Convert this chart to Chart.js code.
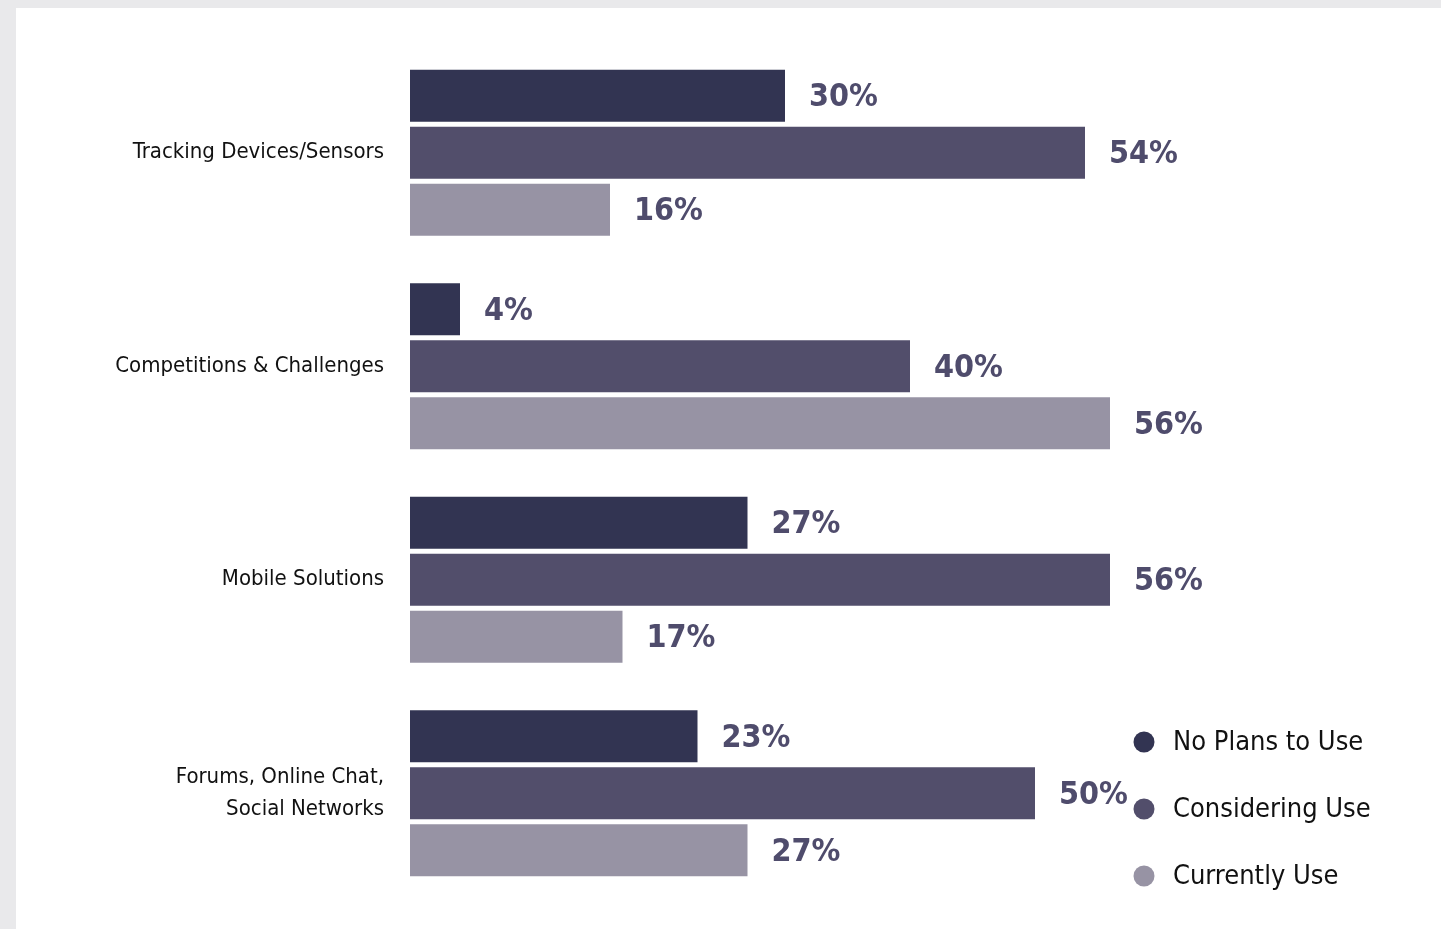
<!DOCTYPE html>
<html>
<head>
<meta charset="utf-8">
<title>Technology use</title>
<script src="https://cdn.jsdelivr.net/npm/chart.js@4/dist/chart.umd.min.js"></script>
<style>
    body { margin: 0; background: #e9e9eb; width: 1441px; height: 929px; overflow: hidden; position: relative; }
    .panel { position: absolute; left: 16px; top: 8px; right: 0; bottom: 0; background: #fff; }
    #chart { position: absolute; left: 0; top: 0; }
</style>
</head>
<body>
<div class="panel"></div>
<canvas id="chart" width="1441" height="929"></canvas>
<script>
// Survey answers per tool type, in percent
const categories = [
    'Tracking Devices/Sensors',
    'Competitions & Challenges',
    'Mobile Solutions',
    ['Forums, Online Chat,', 'Social Networks']
];
const seriesNames = ['No Plans to Use', 'Considering Use', 'Currently Use'];
const noPlans = [30, 4, 27, 23];
const considering = [54, 40, 56, 50];
const currently = [16, 56, 17, 27];
const seriesColors = ['#323452', '#524e6b', '#9793a4'];

const FONT = '"Liberation Sans Narrow", "DejaVu Sans Condensed", "Roboto Condensed", "Open Sans", sans-serif';

// value at the end of each bar
const valueLabels = {
    id: 'valueLabels',
    afterDatasetsDraw(chart) {
        const ctx = chart.ctx;
        ctx.save();
        ctx.font = 'bold 32px ' + FONT;
        ctx.fillStyle = '#4f4c6c';
        ctx.textAlign = 'left';
        ctx.textBaseline = 'middle';
        chart.data.datasets.forEach((ds, i) => {
            chart.getDatasetMeta(i).data.forEach((bar, j) => {
                ctx.fillText(ds.data[j] + '%', bar.x + 24, bar.y + 2);
            });
        });
        ctx.restore();
    }
};

// round markers with series names, bottom right
const dotLegend = {
    id: 'dotLegend',
    afterDraw(chart) {
        const ctx = chart.ctx;
        ctx.save();
        ctx.font = '27px ' + FONT;
        ctx.textBaseline = 'middle';
        ctx.textAlign = 'left';
        chart.data.datasets.forEach((ds, i) => {
            const y = 742 + i * 67;
            ctx.fillStyle = ds.backgroundColor;
            ctx.beginPath();
            ctx.arc(1144, y, 10.5, 0, Math.PI * 2);
            ctx.fill();
            ctx.fillStyle = '#111';
            ctx.fillText(ds.label, 1173, y + 1);
        });
        ctx.restore();
    }
};

const seriesData = [noPlans, considering, currently];

new Chart(document.getElementById('chart'), {
    type: 'bar',
    data: {
        labels: categories,
        datasets: seriesNames.map((name, i) => ({
            label: name,
            data: seriesData[i],
            backgroundColor: seriesColors[i],
            borderWidth: 0,
            barPercentage: 0.912,
            categoryPercentage: 0.801
        }))
    },
    options: {
        indexAxis: 'y',
        responsive: false,
        devicePixelRatio: 1,
        animation: false,
        layout: { padding: { left: 0, right: 31, top: 46, bottom: 29 } },
        plugins: {
            legend: { display: false },
            tooltip: { enabled: false }
        },
        scales: {
            x: {
                display: false,
                min: 0,
                max: 80
            },
            y: {
                grid: { display: false, drawTicks: false },
                border: { display: false },
                ticks: {
                    color: '#111',
                    padding: 26,
                    font: { family: FONT, size: 22, lineHeight: 1.45 }
                },
                afterFit(scale) {
                    scale.width = 410;
                    scale.paddingTop = 0;
                    scale.paddingBottom = 0;
                }
            }
        }
    },
    plugins: [valueLabels, dotLegend]
});
</script>
</body>
</html>
